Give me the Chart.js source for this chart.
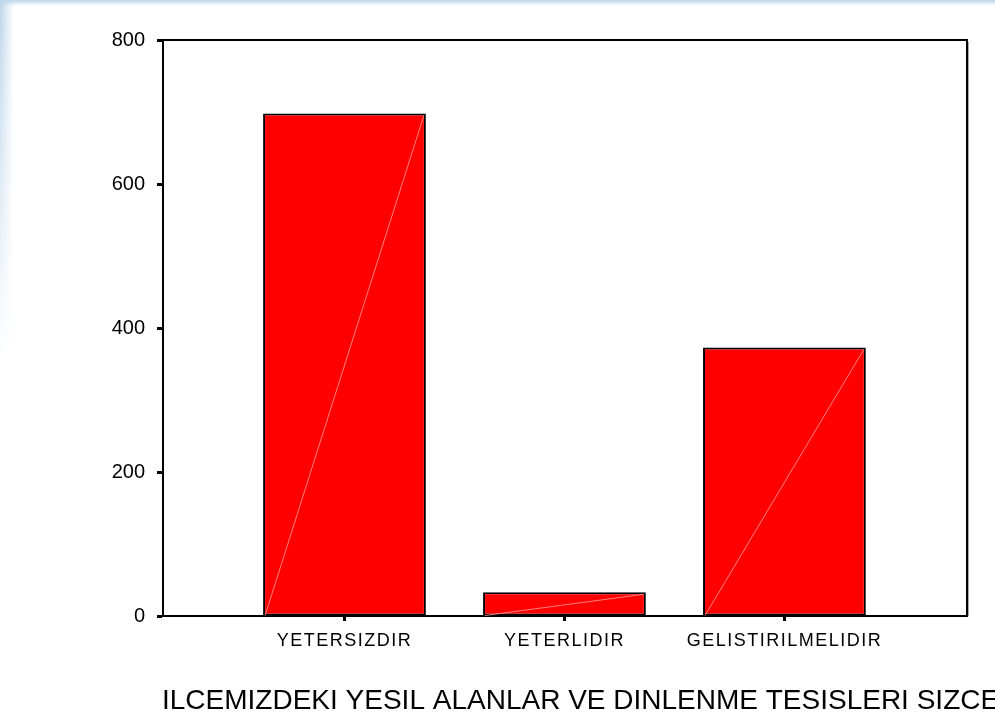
<!DOCTYPE html>
<html>
<head>
<meta charset="utf-8">
<script src="https://cdn.jsdelivr.net/npm/chart.js@4/dist/chart.umd.min.js"></script>
<style>
  html, body { margin: 0; padding: 0; background: #fff; }
  #chart { display: block; }
</style>
</head>
<body>
<canvas id="chart" width="995" height="720"></canvas>
<script>
/*=================================
      data
=================================*/
var categories = ["YETERSIZDIR", "YETERLIDIR", "GELISTIRILMELIDIR"];
var counts = [698, 33, 373];
var yTicks = [0, 200, 400, 600, 800];
var axisTitle = "ILCEMIZDEKI YESIL ALANLAR VE DINLENME TESISLERI SIZCE";

var fontFamily = "'Liberation Sans', Arial, sans-serif";

/*=================================
      page background + frame
=================================*/
var backdrop = {
  id: "backdrop",
  beforeDraw: function (chart) {
    var ctx = chart.ctx;
    ctx.save();
    ctx.fillStyle = "#fff";
    ctx.fillRect(0, 0, chart.width, chart.height);
    // pale blue edge on the left, fading out downwards
    for (var y = 0; y < 360; y += 4) {
      var alpha = 1 - y / 360;
      var g = ctx.createLinearGradient(0, 0, 14, 0);
      g.addColorStop(0, "rgba(190,214,234," + alpha + ")");
      g.addColorStop(1, "rgba(190,214,234,0)");
      ctx.fillStyle = g;
      ctx.fillRect(0, y, 14, 4);
    }
    var t = ctx.createLinearGradient(0, 0, 0, 6);
    t.addColorStop(0, "rgba(190,214,234,1)");
    t.addColorStop(1, "rgba(190,214,234,0)");
    ctx.fillStyle = t;
    ctx.fillRect(0, 0, chart.width, 6);
    ctx.restore();
  },
  afterDatasetsDraw: function (chart) {
    var ctx = chart.ctx;
    var meta = chart.getDatasetMeta(0);
    ctx.save();
    // faint diagonal inside each bar
    ctx.strokeStyle = "rgba(255,140,140,0.9)";
    ctx.lineWidth = 1;
    meta.data.forEach(function (bar) {
      var p = bar.getProps(["x", "y", "base", "width"], true);
      ctx.beginPath();
      ctx.moveTo(p.x - p.width / 2 + 2, p.base);
      ctx.lineTo(p.x + p.width / 2 - 2, p.y + 2);
      ctx.stroke();
    });
    // top and right sides of the frame
    var a = chart.chartArea;
    ctx.strokeStyle = "#000";
    ctx.lineWidth = 2;
    ctx.beginPath();
    ctx.moveTo(a.left, a.top);
    ctx.lineTo(a.right, a.top);
    ctx.lineTo(a.right, a.bottom);
    ctx.stroke();
    ctx.strokeStyle = "#aaa";
    ctx.lineWidth = 1;
    ctx.beginPath();
    ctx.moveTo(a.right + 1.5, a.top + 2);
    ctx.lineTo(a.right + 1.5, a.bottom);
    ctx.stroke();
    ctx.restore();
    // spaced-out lettering for the category labels drawn after this
    ctx.letterSpacing = "1.5px";
  },
  afterDraw: function (chart) {
    var ctx = chart.ctx;
    ctx.letterSpacing = "0px";
    // axis title, left-aligned with the plot and running past the right edge
    ctx.save();
    ctx.fillStyle = "#000";
    ctx.font = "28px " + fontFamily;
    ctx.textAlign = "left";
    ctx.textBaseline = "middle";
    ctx.fillText(axisTitle, chart.chartArea.left - 1, 701);
    ctx.restore();
  },
};

/*=================================
      chart
=================================*/
var data = {
  datasets: [
    {
      label: "count",
      data: counts.map(function (v, i) {
        return { x: i + 1, y: v };
      }),
      backgroundColor: "#ff0000",
      borderColor: "#000",
      borderWidth: 2,
      borderSkipped: false,
      barPercentage: 0.74,
      categoryPercentage: 1,
    },
  ],
};

var options = {
  responsive: false,
  animation: false,
  layout: { padding: { top: 40, right: 28, left: 0, bottom: 0 } },
  plugins: {
    legend: { display: false },
    tooltip: { enabled: false },
  },
  scales: {
    x: {
      type: "linear",
      offset: false,
      min: 0.175,
      max: 3.83,
      afterBuildTicks: function (scale) {
        scale.ticks = categories.map(function (c, i) {
          return { value: i + 1 };
        });
      },
      afterFit: function (scale) {
        scale.height = 104;
      },
      grid: {
        offset: false,
        drawOnChartArea: false,
        tickLength: 5,
        tickWidth: 3,
        color: "#000",
      },
      border: { display: true, color: "#000", width: 2 },
      ticks: {
        z: 1,
        autoSkip: false,
        maxRotation: 0,
        padding: 9,
        color: "#000",
        font: { family: fontFamily, size: 18 },
        callback: function (v) {
          return categories[v - 1] || "";
        },
      },
      title: { display: false },
    },
    y: {
      min: yTicks[0],
      max: yTicks[yTicks.length - 1],
      afterBuildTicks: function (scale) {
        scale.ticks = yTicks.map(function (v) {
          return { value: v };
        });
      },
      afterFit: function (scale) {
        scale.width = 163;
      },
      grid: {
        drawOnChartArea: false,
        tickLength: 6,
        tickWidth: 3,
        color: "#000",
      },
      border: { display: true, color: "#000", width: 2 },
      ticks: {
        padding: 12,
        color: "#000",
        font: { family: fontFamily, size: 20 },
      },
    },
  },
};

new Chart("chart", {
  type: "bar",
  data: data,
  options: options,
  plugins: [backdrop],
});
</script>
</body>
</html>
